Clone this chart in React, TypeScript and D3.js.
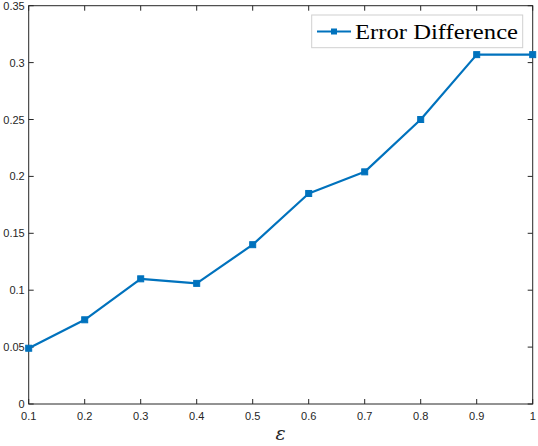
import React from "react";
import * as d3 from "d3";

const xValues = [0.1, 0.2, 0.3, 0.4, 0.5, 0.6, 0.7, 0.8, 0.9, 1.0];
const errorDiff = [0.049, 0.074, 0.110, 0.106, 0.140, 0.185, 0.204, 0.250, 0.307, 0.307];
const xTicks = [0.1, 0.2, 0.3, 0.4, 0.5, 0.6, 0.7, 0.8, 0.9, 1];
const yTicks = [0, 0.05, 0.1, 0.15, 0.2, 0.25, 0.3, 0.35];
const seriesName = "Error Difference";
const xLabel = "ε";

const W = 538, H = 446;
const L = 28.7, R = 532.7, T = 5.7, B = 404;
const color = "#0072BD";
const axisColor = "#262626";

export default function App() {
  const x = d3.scaleLinear().domain([0.1, 1]).range([L, R]);
  const y = d3.scaleLinear().domain([0, 0.35]).range([B, T]);
  const line = d3.line<number>().x((_, i) => x(xValues[i])).y((d) => y(d));
  const tickFont = "'Liberation Sans', Arial, sans-serif";
  const tl = 5;
  return (
    <svg width={W} height={H} style={{ position: "absolute", left: 0, top: 0 }}>
      <rect x={0} y={0} width={W} height={H} fill="#fff" />
      {/* ticks */}
      {xTicks.map((t) => (
        <g key={"x" + t}>
          <line x1={x(t)} x2={x(t)} y1={B} y2={B - tl} stroke={axisColor} strokeWidth={1} />
          <line x1={x(t)} x2={x(t)} y1={T} y2={T + tl} stroke={axisColor} strokeWidth={1} />
          <text x={x(t)} y={B + 16} textAnchor="middle" fontFamily={tickFont} fontSize={11} fill={axisColor}>
            {String(t)}
          </text>
        </g>
      ))}
      {yTicks.map((t) => (
        <g key={"y" + t}>
          <line x1={L} x2={L + tl} y1={y(t)} y2={y(t)} stroke={axisColor} strokeWidth={1} />
          <line x1={R} x2={R - tl} y1={y(t)} y2={y(t)} stroke={axisColor} strokeWidth={1} />
          <text x={L - 4} y={y(t) + 4} textAnchor="end" fontFamily={tickFont} fontSize={11} fill={axisColor}>
            {String(t)}
          </text>
        </g>
      ))}
      <rect x={L} y={T} width={R - L} height={B - T} fill="none" stroke={axisColor} strokeWidth={1} />
      {/* series */}
      <path d={line(errorDiff) || ""} fill="none" stroke={color} strokeWidth={2.2} strokeLinejoin="round" />
      {errorDiff.map((v, i) => (
        <rect key={i} x={x(xValues[i]) - 3} y={y(v) - 3} width={6} height={6} fill={color} stroke={color} strokeWidth={1} />
      ))}
      {/* axis label */}
      <text x={(L + R) / 2} y={440} textAnchor="middle" fontFamily="'DejaVu Serif', 'Liberation Serif', serif" fontStyle="italic" fontSize={19} fill={axisColor}>
        {xLabel}
      </text>
      {/* legend */}
      <rect x={311.7} y={15} width={211} height={32.7} fill="#fff" stroke="#d0d0d0" strokeWidth={1} />
      <line x1={317} x2={351} y1={31.5} y2={31.5} stroke={color} strokeWidth={2.2} />
      <rect x={331} y={28.5} width={6} height={6} fill={color} />
      <text x={355} y={38.5} fontFamily="'Liberation Serif', 'DejaVu Serif', serif" fontSize={20} fill="#000" textLength={163} lengthAdjust="spacingAndGlyphs">
        {seriesName}
      </text>
    </svg>
  );
}
